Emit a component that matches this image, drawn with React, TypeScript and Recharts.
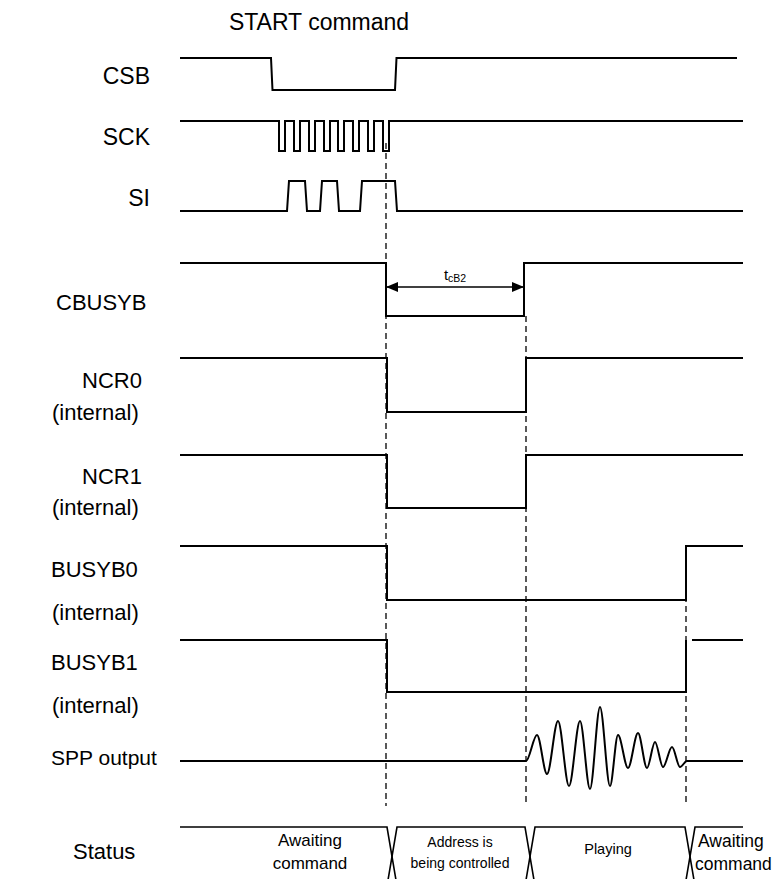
import React from 'react'
import { LineChart, Line, XAxis, YAxis, ReferenceDot } from 'recharts'

const FONT = '"Liberation Sans", Arial, Helvetica, sans-serif'

// time 1 = left end of the traces, one unit ~ one pixel of the original drawing
const T_START = 1
const T_END = 564
const CSB_END = 558

// logic signals: level at start, then the times where the level toggles
const CSB_EDGES = [92, 216]
const SCK_EDGES = [100, 106, 115, 121, 130, 136, 145, 151, 159, 165, 174, 180, 189, 195, 204, 210]
const SI_EDGES = [108, 126, 141, 158, 181, 216]
const CBUSYB_EDGES = [207, 345]
const NCR0_EDGES = [208, 347]
const NCR1_EDGES = [208, 347]
const BUSYB0_EDGES = [208, 507]
const BUSYB1_EDGES = [208, 507]
const BUSYB1_RESUME = [513, 564]

// SPP output: sample times and amplitudes (arbitrary units)
const SPP_T = [1, 347, 358, 368, 379, 390, 401, 411, 421, 431, 439, 449, 459, 468, 476, 484, 493, 501, 508, 564]
const SPP_A = [0, 0, 26, -13, 40, -25, 40, -28, 54, -25, 26, -7, 28, -7, 19, -6, 14, -6, 0, 0]

// status bus
const STATUS_EDGES = [208, 346, 506]
const STATUS_TEXT = [
  ['Awaiting', 'command'],
  ['Address is', 'being controlled'],
  ['Playing'],
  ['Awaiting', 'command'],
]

// tcB2 interval
const T_CB2 = [207, 345]
// event markers (dashed)
const MARKERS = [207, 347, 507]

// ---- layout (pixel space of the y axis) ----
const LANES: Record<string, { hi: number; lo: number; slope: number }> = {
  CSB: { hi: 58, lo: 90, slope: 1.5 },
  SCK: { hi: 121, lo: 151, slope: 0 },
  SI: { hi: 181, lo: 211, slope: 2 },
  CBUSYB: { hi: 263, lo: 316, slope: 0 },
  NCR0: { hi: 358, lo: 412, slope: 0 },
  NCR1: { hi: 455, lo: 508, slope: 0 },
  BUSYB0: { hi: 546, lo: 600, slope: 0 },
  BUSYB1: { hi: 640, lo: 692, slope: 0 },
}
const SPP_BASE = 761
const STATUS_TOP = 827
const STATUS_BOT = 886
const XW = 10
const MARKER_SPANS = [
  [143, 806],
  [316, 806],
  [546, 806],
]
const ARROW_Y = 287

function logic(lane: string, init: number, edges: number[], end: number, start = T_START) {
  const { hi, lo, slope } = LANES[lane]
  const y = (v: number) => lo - v * (lo - hi)
  const pts = [{ t: start, y: y(init) }]
  let v = init
  edges.forEach(e => {
    pts.push({ t: e, y: y(v) })
    v = 1 - v
    pts.push({ t: e + slope, y: y(v) })
  })
  pts.push({ t: end, y: y(v) })
  return pts
}

const traces = [
  logic('CSB', 1, CSB_EDGES, CSB_END),
  logic('SCK', 1, SCK_EDGES, T_END),
  logic('SI', 0, SI_EDGES, T_END),
  logic('CBUSYB', 1, CBUSYB_EDGES, T_END),
  logic('NCR0', 1, NCR0_EDGES, T_END),
  logic('NCR1', 1, NCR1_EDGES, T_END),
  logic('BUSYB0', 1, BUSYB0_EDGES, T_END),
  logic('BUSYB1', 1, BUSYB1_EDGES, BUSYB1_EDGES[1]),
  logic('BUSYB1', 1, [], BUSYB1_RESUME[1], BUSYB1_RESUME[0]),
]

const spp = SPP_T.map((t, i) => ({ t, y: SPP_BASE - SPP_A[i] }))

// status bus: one path per state, each crossing into the next
const busBounds = [T_START, ...STATUS_EDGES, T_END]
const bus = busBounds.slice(0, -1).map((b, i) => {
  const pts: { t: number; y: number }[] = []
  if (i > 0) pts.push({ t: b, y: STATUS_BOT }, { t: b + XW, y: STATUS_TOP })
  else pts.push({ t: b, y: STATUS_TOP })
  const next = busBounds[i + 1]
  pts.push({ t: next, y: STATUS_TOP })
  if (i < busBounds.length - 2) pts.push({ t: next + XW, y: STATUS_BOT })
  return pts
})

const markers = MARKERS.map((t, i) => [
  { t, y: MARKER_SPANS[i][0] },
  { t, y: MARKER_SPANS[i][1] },
])

type Lbl = { t: number; y: number; text: string; size: number; anchor?: 'start' | 'middle' | 'end' }
const LABELS: Lbl[] = [
  { t: 140, y: 22, text: 'START command', size: 23, anchor: 'middle' },
  { t: -29, y: 76, text: 'CSB', size: 23, anchor: 'end' },
  { t: -29, y: 137, text: 'SCK', size: 23, anchor: 'end' },
  { t: -29, y: 198, text: 'SI', size: 23, anchor: 'end' },
  { t: -123, y: 302, text: 'CBUSYB', size: 22 },
  { t: -97, y: 380, text: 'NCR0', size: 22 },
  { t: -127, y: 412, text: '(internal)', size: 22 },
  { t: -97, y: 476, text: 'NCR1', size: 22 },
  { t: -127, y: 507, text: '(internal)', size: 22 },
  { t: -128, y: 569, text: 'BUSYB0', size: 22 },
  { t: -127, y: 612, text: '(internal)', size: 22 },
  { t: -128, y: 662, text: 'BUSYB1', size: 22 },
  { t: -127, y: 705, text: '(internal)', size: 22 },
  { t: -128, y: 757, text: 'SPP output', size: 21 },
  { t: -106, y: 851, text: 'Status', size: 22 },
]

const STATUS_POS = [
  { t: 131, size: 17, anchor: 'middle' as const },
  { t: 281, size: 14, anchor: 'middle' as const },
  { t: 429, size: 14.5, anchor: 'middle' as const },
  { t: 519, size: 17.5, anchor: 'start' as const },
]

function textDot(key: string, t: number, y: number, content: React.ReactNode) {
  return (
    <ReferenceDot
      key={key}
      x={t}
      y={y}
      r={0}
      fill="none"
      stroke="none"
      ifOverflow="visible"
      label={(p: any) => {
        const vb = p.viewBox || {}
        return <g transform={`translate(${vb.x},${vb.y})`}>{content}</g>
      }}
    />
  )
}

function label(l: Lbl, key: string) {
  return textDot(
    key,
    l.t,
    l.y,
    <text
      x={0}
      y={0}
      textAnchor={l.anchor || 'start'}
      dominantBaseline="central"
      fontSize={l.size}
      fontFamily={FONT}
      fill="#000"
    >
      {l.text}
    </text>
  )
}

const Arrow = (props: any) => {
  const { cx, cy, index } = props
  if (cx == null) return null
  const d = index === 0 ? 1 : -1
  return (
    <polygon
      key={`arr-${index}`}
      points={`${cx},${cy} ${cx + d * 12},${cy - 5} ${cx + d * 12},${cy + 5}`}
      fill="#000"
    />
  )
}

export default function App() {
  const statusLabels: React.ReactNode[] = []
  STATUS_TEXT.forEach((lines, i) => {
    const pos = STATUS_POS[i]
    const lh = pos.size >= 16 ? 23 : 21
    const y0 = 852 - ((lines.length - 1) * lh) / 2 - (lines.length === 1 ? 3 : 0)
    lines.forEach((s, j) => {
      statusLabels.push(
        label(
          { t: pos.t - (i === 3 && j === 1 ? 3 : 0), y: y0 + j * lh, text: s, size: pos.size, anchor: pos.anchor },
          `st-${i}-${j}`
        )
      )
    })
  })

  return (
    <div style={{ position: 'absolute', left: 0, top: 0, width: 778, height: 879, background: '#fff', overflow: 'hidden' }}>
      <LineChart width={778} height={879} margin={{ top: 0, right: 0, bottom: 0, left: 0 }}>
        <XAxis type="number" dataKey="t" domain={[-179, 599]} allowDataOverflow hide />
        <YAxis type="number" dataKey="y" domain={[0, 879]} allowDataOverflow reversed hide />

        {markers.map((m, i) => (
          <Line
            key={`mk-${i}`}
            data={m}
            dataKey="y"
            type="linear"
            stroke="#000"
            strokeWidth={1.3}
            strokeDasharray="6 4"
            dot={false}
            activeDot={false}
            legendType="none"
            isAnimationActive={false}
          />
        ))}

        {traces.map((d, i) => (
          <Line
            key={`tr-${i}`}
            data={d}
            dataKey="y"
            type="linear"
            stroke="#000"
            strokeWidth={2}
            dot={false}
            activeDot={false}
            legendType="none"
            isAnimationActive={false}
          />
        ))}

        <Line
          data={spp}
          dataKey="y"
          type="monotone"
          stroke="#000"
          strokeWidth={2}
          dot={false}
          activeDot={false}
          legendType="none"
          isAnimationActive={false}
        />

        {bus.map((d, i) => (
          <Line
            key={`bus-${i}`}
            data={d}
            dataKey="y"
            type="linear"
            stroke="#000"
            strokeWidth={1.6}
            dot={false}
            activeDot={false}
            legendType="none"
            isAnimationActive={false}
          />
        ))}

        <Line
          data={T_CB2.map(t => ({ t, y: ARROW_Y }))}
          dataKey="y"
          type="linear"
          stroke="#000"
          strokeWidth={1.3}
          dot={<Arrow />}
          activeDot={false}
          legendType="none"
          isAnimationActive={false}
        />

        {textDot(
          'tcb2',
          276,
          274,
          <text x={0} y={0} textAnchor="middle" dominantBaseline="central" fontFamily={FONT} fill="#000">
            <tspan fontSize={15}>t</tspan>
            <tspan fontSize={10.5} dy={4}>cB2</tspan>
          </text>
        )}

        {LABELS.map((l, i) => label(l, `lb-${i}`))}
        {statusLabels}
      </LineChart>
    </div>
  )
}
